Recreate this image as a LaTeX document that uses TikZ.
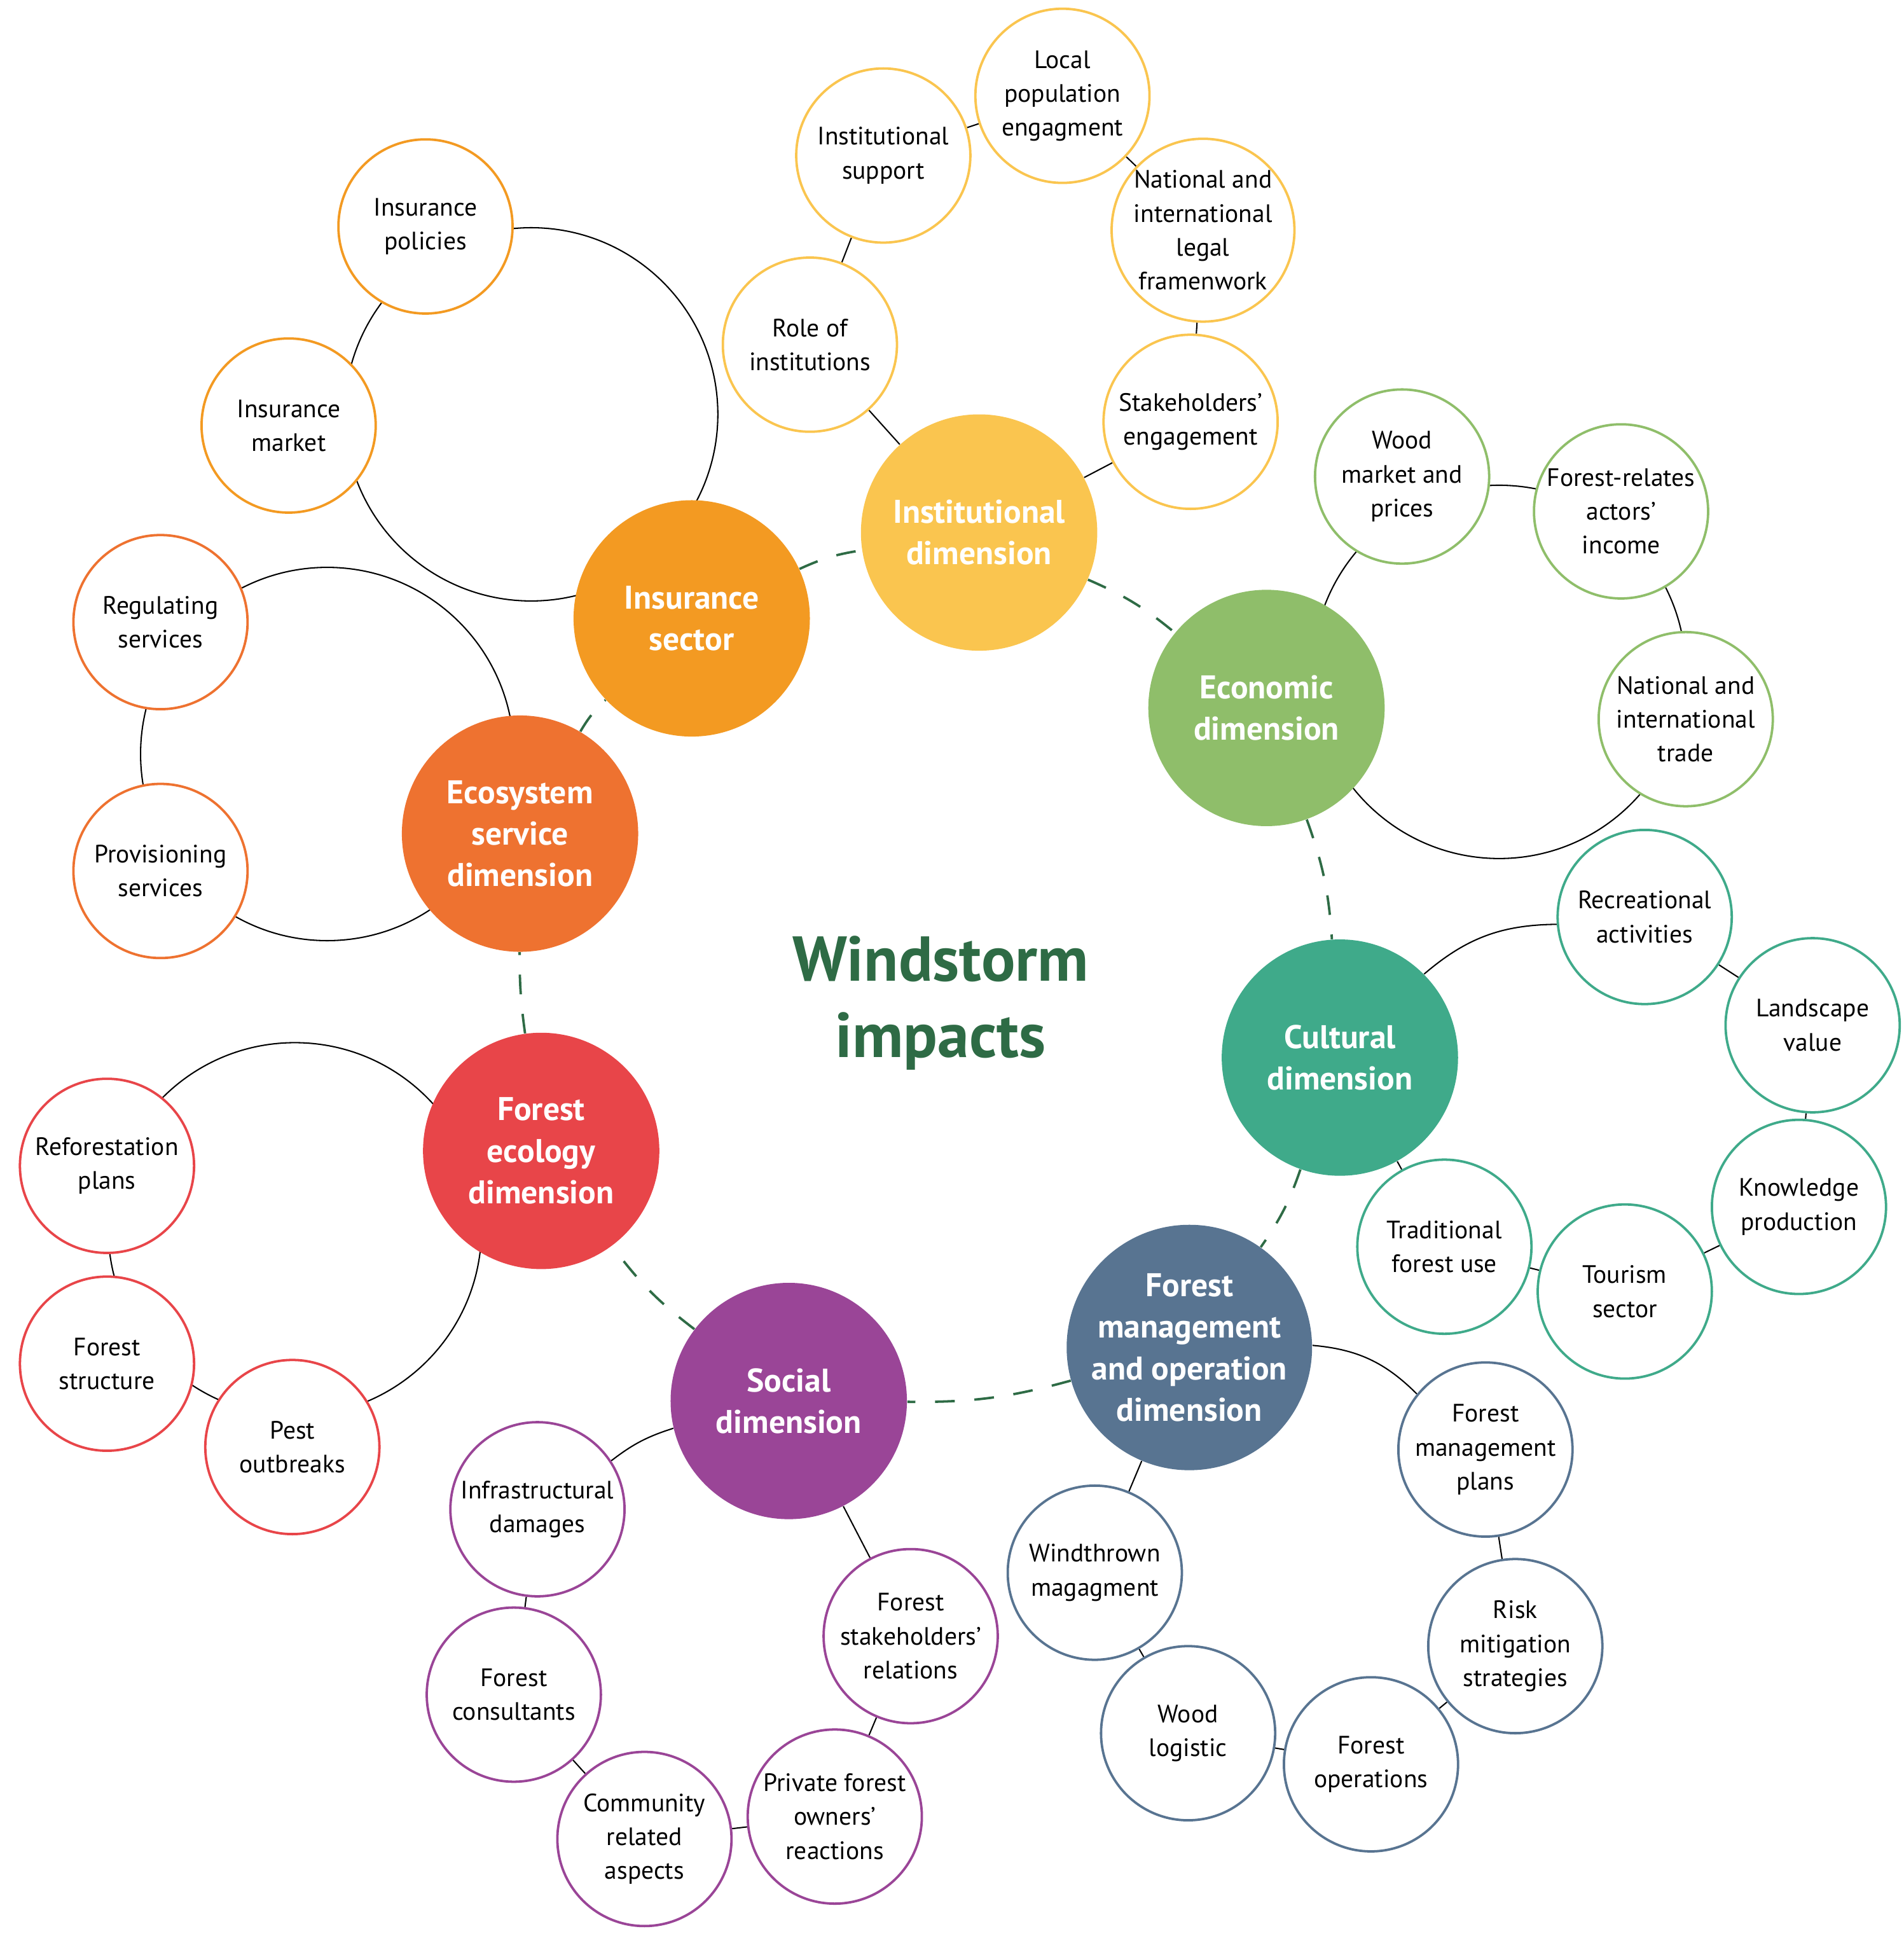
\documentclass[tikz,border=0pt]{standalone}
\usepackage{fontspec}
\setmainfont{PT Sans}
\usetikzlibrary{backgrounds}
\definecolor{cIns}{HTML}{F39A22}
\definecolor{cInst}{HTML}{FAC54F}
\definecolor{cEco}{HTML}{8FBE6A}
\definecolor{cCul}{HTML}{3FAA8A}
\definecolor{cFM}{HTML}{587491}
\definecolor{cSoc}{HTML}{9A4597}
\definecolor{cFE}{HTML}{E84549}
\definecolor{cES}{HTML}{EE7230}
\definecolor{cTxt}{HTML}{2E6B45}
\begin{document}
\begin{tikzpicture}[x=0.02cm,y=-0.02cm,
  big/.style={circle,fill=#1,minimum size=3.8cm,inner sep=0pt,align=center,text=white,font=\fontsize{15}{19}\selectfont\bfseries},
  small/.style={circle,fill=white,draw=#1,line width=1.1pt,minimum size=2.8cm,inner sep=0pt,align=center,font=\fontsize{11.5}{15.5}\selectfont},
  link/.style={line width=0.6pt,black},
  dlink/.style={cTxt,line width=1.1pt,dash pattern=on 9pt off 9pt}]
\useasboundingbox (0,0) rectangle (1530,1556);
% main
\node[big=cIns] (ins) at (556,497) {Insurance\\sector};
\node[big=cInst] (inst) at (787,428) {Institutional\\dimension};
\node[big=cEco] (eco) at (1018,569) {Economic\\dimension};
\node[big=cCul] (cul) at (1077,850) {Cultural\\dimension};
\node[big=cFM] (fm) at (956,1083) {Forest\\management\\and operation\\dimension};
\node[big=cSoc] (soc) at (634,1126) {Social\\dimension};
\node[big=cFE] (fe) at (435,925) {Forest\\ecology\\dimension};
\node[big=cES] (es) at (418,670) {Ecosystem\\service\\dimension};
\node[text=cTxt,align=center,font=\fontsize{29}{35}\selectfont\bfseries] (ttl) at (756,806) {Windstorm\\impacts};
% insurance
\node[small=cIns] (ip) at (342,182) {Insurance\\policies};
\node[small=cIns] (im) at (232,342) {Insurance\\market};
% ecosystem
\node[small=cES] (rs) at (129,500) {Regulating\\services};
\node[small=cES] (ps) at (129,700) {Provisioning\\services};
% institutional
\node[small=cInst] (isup) at (710,125) {Institutional\\support};
\node[small=cInst] (lpe) at (854,77) {Local\\population\\engagment};
\node[small=cInst] (nil) at (967,185) {National and\\international\\legal\\framenwork};
\node[small=cInst] (se) at (957,339) {Stakeholders’\\engagement};
\node[small=cInst] (ri) at (651,277) {Role of\\institutions};
% economic
\node[small=cEco] (wm) at (1127,383) {Wood\\market and\\prices};
\node[small=cEco] (fra) at (1303,411) {Forest-relates\\actors’\\income};
\node[small=cEco] (nit) at (1355,578) {National and\\international\\trade};
% cultural
\node[small=cCul] (ra) at (1322,737) {Recreational\\activities};
\node[small=cCul] (lv) at (1457,824) {Landscape\\value};
\node[small=cCul] (kp) at (1446,970) {Knowledge\\production};
\node[small=cCul] (ts) at (1306,1038) {Tourism\\sector};
\node[small=cCul] (tfu) at (1161,1002) {Traditional\\forest use};
% forest management
\node[small=cFM] (fmp) at (1194,1165) {Forest\\management\\plans};
\node[small=cFM] (rms) at (1218,1323) {Risk\\mitigation\\strategies};
\node[small=cFM] (fo) at (1102,1418) {Forest\\operations};
\node[small=cFM] (wl) at (955,1393) {Wood\\logistic};
\node[small=cFM] (wtm) at (880,1264) {Windthrown\\magagment};
% social
\node[small=cSoc] (id) at (432,1213) {Infrastructural\\damages};
\node[small=cSoc] (fc) at (413,1362) {Forest\\consultants};
\node[small=cSoc] (cra) at (518,1478) {Community\\related\\aspects};
\node[small=cSoc] (pfo) at (671,1460) {Private forest\\owners’\\reactions};
\node[small=cSoc] (fsr) at (732,1315) {Forest\\stakeholders’\\relations};
% forest ecology
\node[small=cFE] (rp) at (86,937) {Reforestation\\plans};
\node[small=cFE] (fs) at (86,1096) {Forest\\structure};
\node[small=cFE] (po) at (235,1163) {Pest\\outbreaks};
\begin{scope}[on background layer]
\draw[link] (427,333) circle[radius=150];
\draw[link] (263,606) circle[radius=150];
\draw[link] (1205,540) circle[radius=150];
\draw[link] (237,988) circle[radius=150];
\draw[link] (ri)--(isup) (isup)--(lpe) (lpe)--(nil) (nil)--(se) (se)--(inst) (ri)--(inst);
\draw[link] (cul) to[bend left=20] (ra);
\draw[link] (ra)--(lv) (lv)--(kp) (kp)--(ts) (ts)--(tfu) (tfu)--(cul);
\draw[link] (fm) to[bend left=20] (fmp);
\draw[link] (fmp)--(rms) (rms)--(fo) (fo)--(wl) (wl)--(wtm) (wtm)--(fm);
\draw[link] (soc) to[bend right=10] (id);
\draw[link] (id)--(fc) (fc)--(cra) (cra)--(pfo) (pfo)--(fsr) (fsr)--(soc);
\draw[dlink] (ins) to[bend left=8] (inst);
\draw[dlink] (inst) to[bend left=8] (eco);
\draw[dlink] (eco) to[bend left=8] (cul);
\draw[dlink] (cul) to[bend left=8] (fm);
\draw[dlink] (fm) to[bend left=8] (soc);
\draw[dlink] (soc) to[bend left=8] (fe);
\draw[dlink] (fe) to[bend left=4] (es);
\draw[dlink] (es) to[bend left=8] (ins);
\end{scope}
\end{tikzpicture}
\end{document}
